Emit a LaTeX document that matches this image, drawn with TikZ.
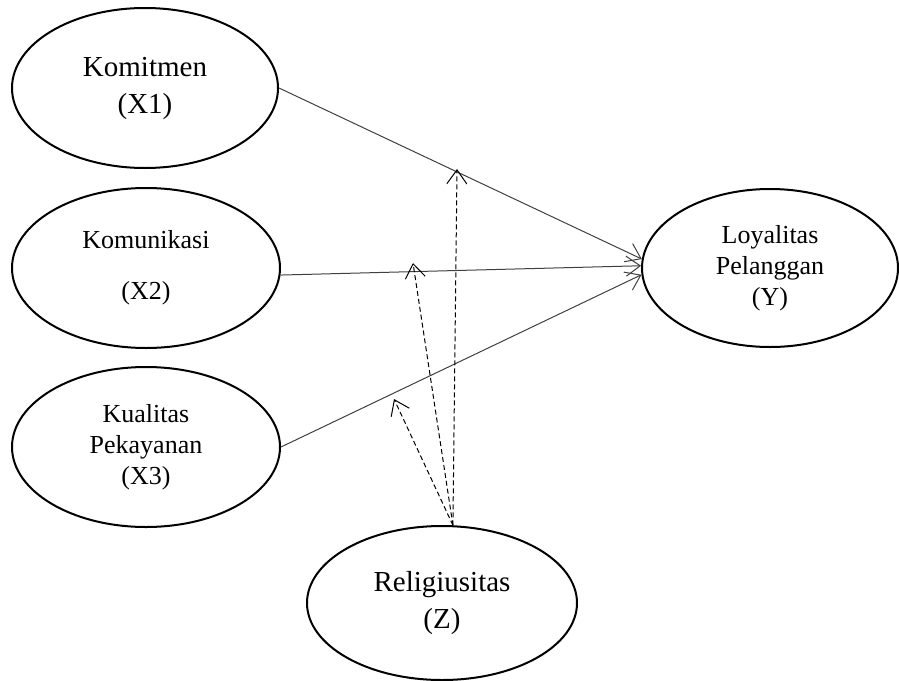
\documentclass[tikz,border=0pt]{standalone}
\usepackage{fontspec}
\setmainfont{Liberation Serif}
\usetikzlibrary{shapes.geometric}
\usetikzlibrary{arrows.meta}
\tikzset{
  latent/.style={draw, line width=1pt, ellipse, inner sep=0pt, align=center},
  effect/.style={draw=black!75, line width=0.5pt, -{Straight Barb[length=7pt,width=10pt]}},
  moderate/.style={draw, line width=0.5pt, dash pattern=on 2.5pt off 1.5pt, -{Straight Barb[length=7pt,width=10pt]}}
}
\newcommand{\bigtxt}{\fontsize{14.5}{18.5}\selectfont}
\newcommand{\smalltxt}{\fontsize{13}{15.5}\selectfont}

\begin{document}
\begin{tikzpicture}[x=0.5pt,y=-0.5pt]
        \useasboundingbox (0,0) rectangle (899,680);
        % independent variables
        \node[latent, minimum width=133pt, minimum height=80pt, font=\bigtxt] (X1) at (145,88) {Komitmen\\(X1)};
        \node[latent, minimum width=134pt, minimum height=80pt, font=\smalltxt] (X2) at (146,268) {Komunikasi\\[10pt](X2)};
        \node[latent, minimum width=134pt, minimum height=80pt, font=\smalltxt] (X3) at (146,447) {Kualitas\\Pekayanan\\(X3)};
        % dependent variable
        \node[latent, minimum width=128pt, minimum height=79pt, font=\smalltxt] (Y) at (770,268) {Loyalitas\\Pelanggan\\(Y)};
        % moderator
        \node[latent, minimum width=135pt, minimum height=77pt, font=\bigtxt] (Z) at (442,603) {Religiusitas\\(Z)};

        % direct effects
        \draw[effect] (X1.east) -- (Y.176);
        \draw[effect] (X2.-3) -- (Y.179);
        \draw[effect] (X3.east) -- (Y.183);

        % moderating effects
        \coordinate (zb) at (Z.82);
        \coordinate (m1) at (457,169);
        \coordinate (m2) at (413,263);
        \coordinate (m3) at (394,399);
        \draw[moderate] (zb) -- (m1);
        \draw[moderate] (zb) -- (m2);
        \draw[moderate] (zb) -- (m3);
\end{tikzpicture}
\end{document}
